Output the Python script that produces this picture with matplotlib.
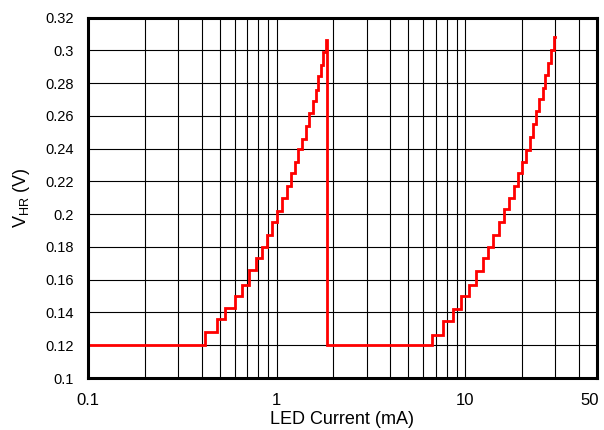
import numpy as np
import matplotlib
matplotlib.use('Agg')
import matplotlib.pyplot as plt
import matplotlib.transforms as mtransforms
from matplotlib.ticker import FixedLocator, NullFormatter

plt.rcParams['font.family'] = ['Liberation Sans', 'DejaVu Sans']

# LED current (mA) at each step change, and V_HR (V) after it
current_ma = [
    0.1, 0.418, 0.484, 0.533, 0.602, 0.659, 0.718, 0.775, 0.834, 0.894,
    0.950, 1.010, 1.065, 1.132, 1.189, 1.253, 1.305, 1.371, 1.428, 1.488,
    1.555, 1.614, 1.667, 1.722, 1.772, 1.823, 1.861,
    6.66, 7.62, 8.60, 9.52, 10.54, 11.44, 12.41, 13.29, 14.03, 15.09,
    16.10, 17.12, 18.13, 19.04, 19.99, 20.99, 21.94, 22.87, 23.81, 24.70,
    25.71, 26.57, 27.46, 28.49, 29.42, 29.8,
]
v_hr = [
    0.120, 0.128, 0.136, 0.143, 0.150, 0.157, 0.166, 0.173, 0.180, 0.187,
    0.195, 0.202, 0.210, 0.217, 0.225, 0.232, 0.240, 0.246, 0.254, 0.262,
    0.269, 0.276, 0.284, 0.291, 0.299, 0.306, 0.120,
    0.126, 0.135, 0.142, 0.150, 0.157, 0.165, 0.173, 0.180, 0.187, 0.195,
    0.203, 0.210, 0.217, 0.225, 0.232, 0.239, 0.247, 0.255, 0.263, 0.270,
    0.277, 0.285, 0.292, 0.300, 0.308, 0.308,
]

x_major = [0.1, 1, 10, 50]
x_labels = ['0.1', '1', '10', '50']
x_minor = [0.2, 0.3, 0.4, 0.5, 0.6, 0.7, 0.8, 0.9,
           2, 3, 4, 5, 6, 7, 8, 9, 20, 30, 40]
y_ticks = np.round(np.arange(0.10, 0.321, 0.02), 2)

fig = plt.figure(figsize=(6.04, 4.30), dpi=100)
ax = fig.add_axes([0.1457, 0.1209, 0.8427, 0.8384])

ax.plot(current_ma, v_hr, color='red', lw=2.0, drawstyle='steps-post',
        solid_joinstyle='miter', zorder=3)

ax.set_xscale('log')
ax.set_xlim(0.1, 50)
ax.set_ylim(0.1, 0.32)

ax.xaxis.set_major_locator(FixedLocator(x_major))
ax.xaxis.set_minor_locator(FixedLocator(x_minor))
ax.xaxis.set_minor_formatter(NullFormatter())
ax.set_xticklabels(x_labels)
ax.set_yticks(y_ticks)
ax.set_yticklabels(['%g' % v for v in y_ticks])

ax.grid(True, which='both', color='black', lw=0.8)
ax.tick_params(which='both', length=0)
ax.tick_params(axis='x', pad=11, labelsize=12)
ax.tick_params(axis='y', pad=10, labelsize=10.5)

# last x label sits at the figure edge; nudge it inside
last = ax.get_xticklabels()[-1]
last.set_transform(last.get_transform() +
                   mtransforms.ScaledTranslation(-7 / 100, 0, fig.dpi_scale_trans))

for s in ax.spines.values():
    s.set_linewidth(2.2)
    s.set_color('black')
    s.set_zorder(4)

ax.set_xlabel('LED Current (mA)', fontsize=13, labelpad=2)
ax.set_ylabel('V$_{\\mathregular{HR}}$ (V)', fontsize=13, labelpad=10)

fig.savefig('out.png', dpi=100)
